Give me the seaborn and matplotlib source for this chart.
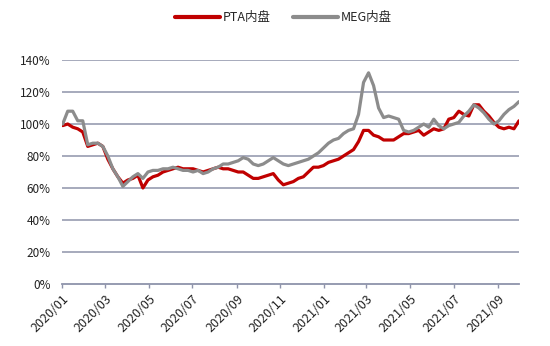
import matplotlib
matplotlib.use("Agg")
import matplotlib.pyplot as plt
import matplotlib.dates as mdates
from matplotlib.ticker import FuncFormatter
import numpy as np
import pandas as pd
import seaborn as sns

# ---- data (weekly) ----
start_date = "2020-01-02"
pta = [99, 100, 98, 97, 95, 86, 87, 88, 86, 78, 72, 67, 63, 65, 66, 68, 60, 65, 67, 68,
       70, 71, 72, 73, 72, 72, 72, 71, 70, 71, 72, 73, 72, 72, 71, 70, 70, 68, 66, 66,
       67, 68, 69, 65, 62, 63, 64, 66, 67, 70, 73, 73, 74, 76, 77, 78, 80, 82, 84, 89,
       96, 96, 93, 92, 90, 90, 90, 92, 94, 94, 95, 96, 93, 95, 97, 96, 97, 103, 104, 108,
       106, 105, 112, 112, 108, 105, 101, 98, 97, 98, 97, 102]
meg = [100, 108, 108, 102, 102, 87, 88, 88, 86, 80, 72, 67, 61, 64, 67, 69, 66, 70, 71, 71,
       72, 72, 73, 72, 71, 71, 70, 71, 69, 70, 72, 73, 75, 75, 76, 77, 79, 78, 75, 74,
       75, 77, 79, 77, 75, 74, 75, 76, 77, 78, 80, 82, 85, 88, 90, 91, 94, 96, 97, 106,
       126, 132, 124, 110, 104, 105, 104, 103, 96, 95, 96, 98, 100, 98, 103, 99, 97, 99, 100, 101,
       105, 108, 112, 110, 107, 103, 100, 102, 106, 109, 111, 114]
series_names = ["PTA内盘", "MEG内盘"]
colors = ["#C00000", "#8C8C8C"]
y_ticks = [0, 20, 40, 60, 80, 100, 120, 140]
x_tick_dates = ["2020-01-01", "2020-03-01", "2020-05-01", "2020-07-01", "2020-09-01", "2020-11-01",
                "2021-01-01", "2021-03-01", "2021-05-01", "2021-07-01", "2021-09-01"]

dates = pd.date_range(start_date, periods=len(pta), freq="7D")
df = pd.DataFrame({"date": np.concatenate([dates, dates]),
                   "value": pta + meg,
                   "series": [series_names[0]] * len(pta) + [series_names[1]] * len(meg)})

sns.set_theme(style="white")
plt.rcParams["font.family"] = ["Noto Sans CJK SC", "DejaVu Sans"]

fig = plt.figure(figsize=(5.5, 3.46), dpi=100)
ax = fig.add_axes([0.1127, 0.1792, 0.8309, 0.6474])

sns.lineplot(data=df, x="date", y="value", hue="series", palette=colors,
             hue_order=series_names, linewidth=2.3, ax=ax, legend=True, zorder=3)

grid_c = "#8E93AA"
ax.set_ylim(0, 140)
ax.set_yticks(y_ticks)
ax.yaxis.set_major_formatter(FuncFormatter(lambda v, p: f"{int(v)}%"))
for v in y_ticks[1:]:
    ax.axhline(v, color=grid_c, lw=1.1, zorder=1)
ax.set_xlim(pd.Timestamp("2020-01-01"), pd.Timestamp("2021-09-30"))
ax.set_xticks([pd.Timestamp(d) for d in x_tick_dates])
ax.xaxis.set_major_formatter(mdates.DateFormatter("%Y/%m"))

for s in ["top", "right", "left"]:
    ax.spines[s].set_visible(False)
ax.spines["bottom"].set_color(grid_c)
ax.spines["bottom"].set_linewidth(1.3)
ax.tick_params(axis="x", which="major", direction="out", length=3, width=1,
               color=grid_c, bottom=True, labelsize=9, pad=3, labelcolor="#222222")
ax.tick_params(axis="y", length=0, labelsize=8.5, pad=8, labelcolor="#222222")
plt.setp(ax.get_xticklabels(), rotation=45, ha="right", rotation_mode="anchor")
ax.set_xlabel("")
ax.set_ylabel("")
ax.grid(False)

handles, labels = ax.get_legend_handles_labels()
ax.legend(handles, labels, loc="center", bbox_to_anchor=(0.484, 1.19), ncol=2,
          frameon=False, fontsize=9, handlelength=3.6, handletextpad=0.2,
          columnspacing=1.8)
leg = ax.get_legend()
for ln in leg.get_lines():
    ln.set_linewidth(3)

fig.savefig("out.png", dpi=100)
